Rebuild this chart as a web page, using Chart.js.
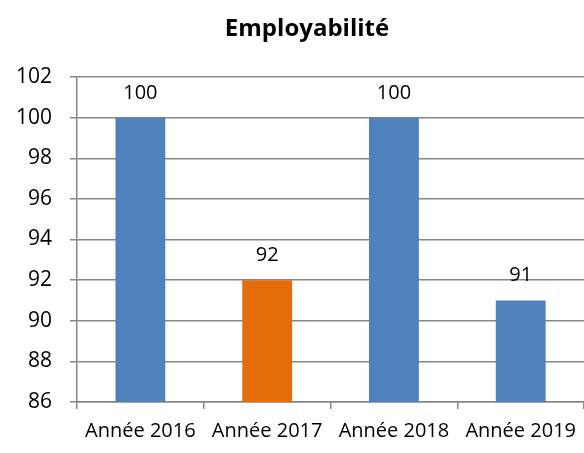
<!DOCTYPE html>
<html>
<head>
<meta charset="utf-8">
<script src="https://cdn.jsdelivr.net/npm/chart.js@4.4.1/dist/chart.umd.min.js"></script>
<style>
  html, body { margin: 0; padding: 0; overflow: hidden; background: #fff; }
  #wrap { width: 586px; height: 453px; }
</style>
</head>
<body>
<div id="wrap"><canvas id="c" width="586" height="453"></canvas></div>
<script>
const labels = ['Année 2016', 'Année 2017', 'Année 2018', 'Année 2019'];
const values = [100, 92, 100, 91];
const colors = ['#4F81BD', '#E46C0A', '#4F81BD', '#4F81BD'];
const title = 'Employabilité';

const FONT = "'Open Sans', sans-serif";
const gridColor = '#868686';

// étiquettes de valeurs au-dessus des barres
const valueLabels = {
    id: 'valueLabels',
    afterLayout(chart) {
        // titre un peu décalé vers la droite comme dans Excel
        if (chart.titleBlock) chart.titleBlock.left += 18;
    },
    afterDatasetsDraw(chart) {
        const ctx = chart.ctx;
        const meta = chart.getDatasetMeta(0);
        ctx.save();
        ctx.font = '20px ' + FONT;
        ctx.fillStyle = '#000';
        ctx.textAlign = 'center';
        ctx.textBaseline = 'alphabetic';
        meta.data.forEach((bar, i) => {
            ctx.fillText(String(values[i]), bar.x, bar.y - 19);
        });
        ctx.restore();
    }
};

new Chart(document.getElementById('c'), {
    type: 'bar',
    data: {
        labels: labels,
        datasets: [{
            data: values,
            backgroundColor: colors,
            barPercentage: 0.393,
            categoryPercentage: 1
        }]
    },
    options: {
        responsive: false,
        animation: false,
        layout: { padding: { left: 10, right: 0, top: 0, bottom: 0 } },
        plugins: {
            legend: { display: false },
            tooltip: { enabled: false },
            title: {
                display: true,
                text: title,
                color: '#000',
                font: { family: FONT, size: 24, weight: 'bold' },
                padding: { top: 15, bottom: 33.2 }
            }
        },
        scales: {
            x: {
                grid: {
                    offset: true,
                    drawOnChartArea: false,
                    drawTicks: true,
                    tickLength: 7,
                    color: gridColor,
                    lineWidth: 1.5
                },
                border: { color: gridColor, width: 1.5 },
                ticks: {
                    color: '#000',
                    padding: 10,
                    maxRotation: 0,
                    font: { family: FONT, size: 20 }
                }
            },
            y: {
                min: 86,
                max: 102,
                afterFit(scale) { scale.width = 67; },
                grid: {
                    color: gridColor,
                    lineWidth: 1.5,
                    tickLength: 7
                },
                border: { color: gridColor, width: 1.5 },
                ticks: {
                    stepSize: 2,
                    color: '#000',
                    padding: 18,
                    font: { family: FONT, size: 21 }
                }
            }
        }
    },
    plugins: [valueLabels]
});
</script>
</body>
</html>
